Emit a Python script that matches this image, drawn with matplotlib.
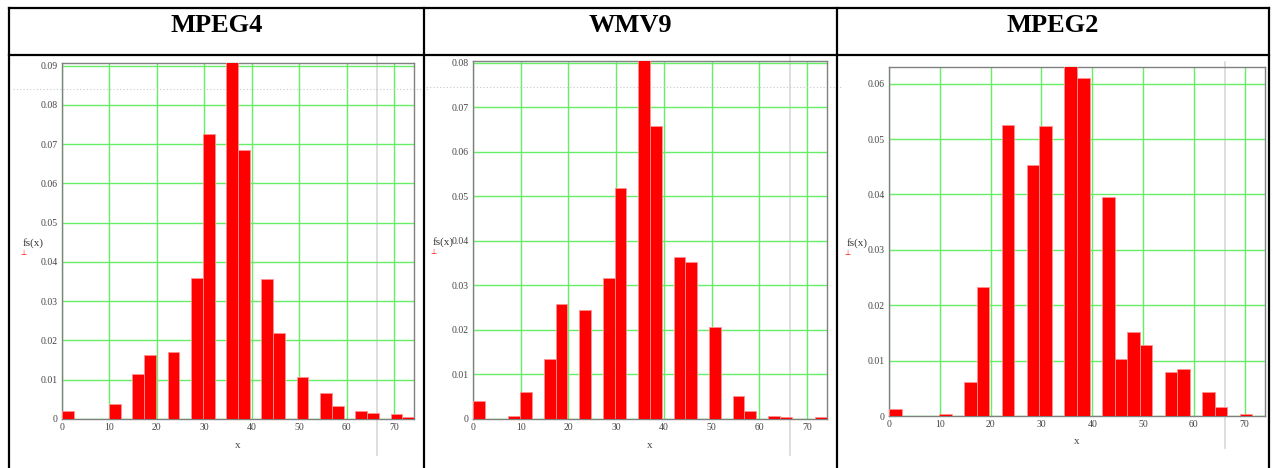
import numpy as np
import matplotlib
matplotlib.use("Agg")
import matplotlib.pyplot as plt
from matplotlib.lines import Line2D
from matplotlib.transforms import blended_transform_factory

# ----------------------------------------------------------------------
# data: histogram bins (30 bins over 0..x_max) and their heights fs(x)
# ----------------------------------------------------------------------
titles = ["MPEG4", "WMV9", "MPEG2"]
x_max = [74.2, 74.2, 74.0]
n_bins = 30

mpeg4_bins = [0, 4, 6, 7, 9, 11, 12, 14, 15, 17, 18, 20, 22, 23, 25, 26, 28, 29]
mpeg4_vals = [0.0021, 0.0039, 0.01145, 0.0162, 0.0170, 0.0359, 0.0725, 0.0935,
              0.0685, 0.0357, 0.0218, 0.0107, 0.0065, 0.0033, 0.0020, 0.0016,
              0.0013, 0.0004]

wmv9_bins = [0, 3, 4, 6, 7, 9, 11, 12, 14, 15, 17, 18, 20, 22, 23, 25, 26, 29]
wmv9_vals = [0.0040, 0.0007, 0.0061, 0.0135, 0.0259, 0.0244, 0.0317, 0.0518,
             0.0830, 0.0657, 0.0363, 0.0352, 0.0207, 0.0052, 0.0019, 0.0007,
             0.0005, 0.0004]

mpeg2_bins = [0, 4, 6, 7, 9, 11, 12, 14, 15, 17, 18, 19, 20, 22, 23, 25, 26, 28]
mpeg2_vals = [0.0013, 0.0004, 0.0061, 0.0233, 0.0525, 0.0453, 0.0524, 0.0650,
              0.0610, 0.0396, 0.0102, 0.0151, 0.0128, 0.0080, 0.0084, 0.0044,
              0.0016, 0.0004]

y_top = [0.0907, 0.0804, 0.0630]
y_ticks = [np.arange(0, 0.091, 0.01), np.arange(0, 0.081, 0.01), np.arange(0, 0.061, 0.01)]
marker_y = [0.0842, 0.0745, None]   # dotted horizontal marker
marker_x = [66.4, 66.4, 66.2]       # grey vertical marker

all_bins = [mpeg4_bins, wmv9_bins, mpeg2_bins]
all_vals = [mpeg4_vals, wmv9_vals, mpeg2_vals]

# ----------------------------------------------------------------------
# layout (pixel positions of the table and the plots)
# ----------------------------------------------------------------------
W, H = 1273, 468
fig = plt.figure(figsize=(W / 100, H / 100), dpi=100)
fig.patch.set_facecolor("white")

def fx(px):
    return px / W

def fy(py):
    return 1 - py / H

col_x = [9, 424, 837, 1269]
row_y = [8, 55]
for x in col_x:
    fig.add_artist(Line2D([fx(x), fx(x)], [fy(row_y[0]), 0], color="black", lw=1.6))
for y in row_y:
    fig.add_artist(Line2D([fx(col_x[0]), fx(col_x[-1])], [fy(y), fy(y)], color="black", lw=1.6))

for i, t in enumerate(titles):
    fig.text(fx((col_x[i] + col_x[i + 1]) / 2), fy(26), t, ha="center", va="center",
             fontsize=19, fontweight="bold", family="Liberation Serif")

# axes boxes: left, right, top, bottom (pixels)
boxes = [(62, 414, 63, 419), (473, 827, 61, 419), (889, 1265, 67, 416)]
ylab_pos = [(33, 243), (443, 242), (857, 243)]
vline_span = [(1.02, -0.10), (1.01, -0.10), (1.014, -0.092)]

for i in range(3):
    l, r, t, b = boxes[i]
    ax = fig.add_axes([fx(l), fy(b), fx(r) - fx(l), fy(t) - fy(b)])
    width = x_max[i] / n_bins
    edges = np.array(all_bins[i]) * width
    ax.bar(edges, all_vals[i], width=width, align="edge", color="#ff0000",
           edgecolor="#ff9090", linewidth=0.6, zorder=3)

    ax.set_xlim(0, x_max[i])
    ax.set_ylim(0, y_top[i])
    ax.set_xticks(np.arange(0, 71, 10))
    ax.set_yticks(y_ticks[i])
    ax.set_yticklabels(["0"] + [f"{v:.2f}" for v in y_ticks[i][1:]])
    ax.grid(True, color="#66ee66", lw=1.0, zorder=1)
    ax.set_axisbelow(True)
    ax.tick_params(length=0, pad=3, labelsize=7, labelcolor="#444444")
    for lab in ax.get_xticklabels() + ax.get_yticklabels():
        lab.set_family("Liberation Serif")
    for sp in ax.spines.values():
        sp.set_color("#808080")
        sp.set_linewidth(1.0)

    ax.set_xlabel("x", fontsize=8, color="#444444", family="Liberation Serif", labelpad=6)

    # marker lines
    tr = blended_transform_factory(ax.transData, ax.transAxes)
    ax.plot([marker_x[i], marker_x[i]], list(vline_span[i]), transform=tr, color="#d8d8d8",
            lw=1.2, clip_on=False, zorder=0)
    if marker_y[i] is not None:
        tr2 = blended_transform_factory(ax.transAxes, ax.transData)
        ax.plot([-0.14, 1.04], [marker_y[i], marker_y[i]], transform=tr2, color="#c8c8c8",
                lw=0.8, ls=(0, (1, 2)), clip_on=False, zorder=2)

    # y label "fs(x)" with the small red placeholder under it
    px, py = ylab_pos[i]
    fig.text(fx(px), fy(py), "fs(x)", ha="center", va="center", fontsize=8,
             color="#333333", family="Liberation Serif")
    fig.text(fx(px - 10), fy(py + 10), "⊥", ha="center", va="center", fontsize=5,
             color="#ff0000")

fig.savefig("out.png", dpi=100)
